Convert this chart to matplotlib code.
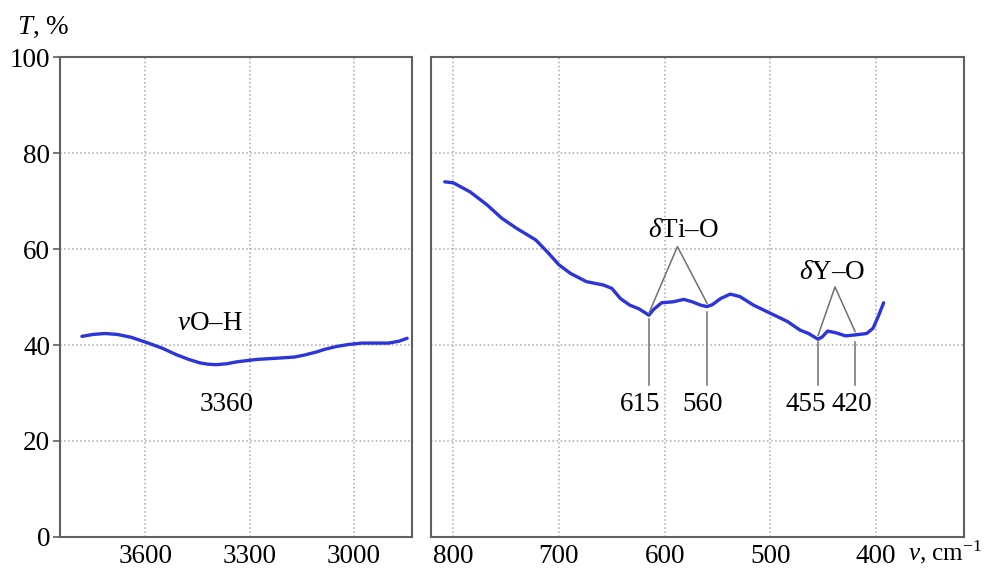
import numpy as np
import matplotlib.pyplot as plt

plt.rcParams['font.family'] = ['Liberation Serif', 'DejaVu Serif']
plt.rcParams['mathtext.fontset'] = 'custom'
plt.rcParams['mathtext.rm'] = 'Liberation Serif'
plt.rcParams['mathtext.it'] = 'Liberation Serif:italic'

# O-H region (left panel)
wn_oh = [3782, 3750, 3716, 3680, 3640, 3595, 3550, 3511, 3475, 3444, 3420, 3396, 3365,
         3336, 3279, 3210, 3170, 3143, 3110, 3084, 3050, 3016, 2977, 2940, 2900, 2870, 2847]
t_oh = [41.8, 42.2, 42.4, 42.2, 41.6, 40.5, 39.3, 38.0, 37.0, 36.3, 36.0, 35.9, 36.1,
        36.5, 37.0, 37.3, 37.5, 37.9, 38.5, 39.1, 39.7, 40.1, 40.4, 40.4, 40.4, 40.8, 41.4]

# fingerprint region (right panel)
wn_fp = [808, 800, 784, 768, 754, 740, 722, 711, 700, 689, 674, 658, 650, 642, 633, 625,
         619, 615, 611, 603, 592, 582, 574, 566, 560, 555, 547, 538, 529, 516, 500, 484,
         472, 464, 458, 455, 451, 446, 439, 429, 420, 409, 403, 398, 393]
t_fp = [74.0, 73.8, 71.9, 69.2, 66.4, 64.3, 61.9, 59.4, 56.7, 54.9, 53.2, 52.5, 51.8, 49.7, 48.3, 47.6,
        46.8, 46.2, 47.3, 48.8, 49.0, 49.5, 49.0, 48.3, 48.0, 48.4, 49.7, 50.6, 50.1, 48.3, 46.6, 44.9,
        43.1, 42.4, 41.6, 41.2, 41.7, 42.9, 42.6, 41.9, 42.1, 42.4, 43.5, 46.0, 48.8]

y_ticks = [0, 20, 40, 60, 80, 100]
x_ticks_oh = [3600, 3300, 3000]
x_ticks_fp = [800, 700, 600, 500, 400]

ti_peaks = [615, 560]
y_peaks = [455, 420]

blue = '#2b35d8'
spine_col = '#606060'
ann_col = '#707070'
fs = 19.5

fig = plt.figure(figsize=(9.84, 5.68), dpi=100)
ax1 = fig.add_axes([0.061, 0.0546, 0.3577, 0.845])
ax2 = fig.add_axes([0.438, 0.0546, 0.5417, 0.845])

for ax in (ax1, ax2):
    ax.set_ylim(0, 100)
    ax.set_yticks(y_ticks)
    ax.grid(True, linestyle=':', color='#aaaaaa', linewidth=1.1)
    ax.set_axisbelow(True)
    for s in ax.spines.values():
        s.set_color(spine_col)
        s.set_linewidth(1.5)
    ax.tick_params(axis='x', length=0, pad=5, labelsize=fs)
    ax.tick_params(axis='y', length=5, width=1.2, color=spine_col, labelsize=fs, pad=2)

ax1.plot(wn_oh, t_oh, color=blue, linewidth=2.4, solid_capstyle='round')
ax1.set_xlim(3845, 2833)
ax1.set_xticks(x_ticks_oh)
ax1.text(3415, 41.9, r'$\nu$O–H', fontsize=fs, ha='center', va='bottom')
ax1.text(3366, 27.5, '3360', fontsize=fs, ha='center', va='center')

ax2.plot(wn_fp, t_fp, color=blue, linewidth=2.4, solid_capstyle='round')
ax2.set_xlim(821, 317)
ax2.set_xticks(x_ticks_fp)
ax2.tick_params(axis='y', length=0, labelleft=False)

# delta Ti-O annotation
ax2.text(582, 61.3, r'$\delta$Ti–O', fontsize=fs, ha='center', va='bottom')
ax2.plot([615, 588, 560], [46.6, 60.5, 48.7], color=ann_col, linewidth=1.1)
# delta Y-O annotation
ax2.text(442, 52.4, r'$\delta$Y–O', fontsize=fs, ha='center', va='bottom')
ax2.plot([455, 439, 420], [42.0, 52.1, 42.8], color=ann_col, linewidth=1.1)

for wn, lab_x in zip(ti_peaks + y_peaks, [623, 564, 467, 423]):
    top = 45.4 if wn in ti_peaks else 40.6
    if wn == 560:
        top = 46.9
    ax2.plot([wn, wn], [top, 31.7], color=ann_col, linewidth=1.1)
    ax2.text(lab_x, 27.6, str(wn), fontsize=fs, ha='center', va='center')

fig.text(0.017, 0.951, r'$T$, %', fontsize=fs, ha='left', va='center')
fig.text(0.998, 0.028, r'$\nu$, cm$^{-1}$', fontsize=18, ha='right', va='center')

fig.savefig('out.png', dpi=100)
